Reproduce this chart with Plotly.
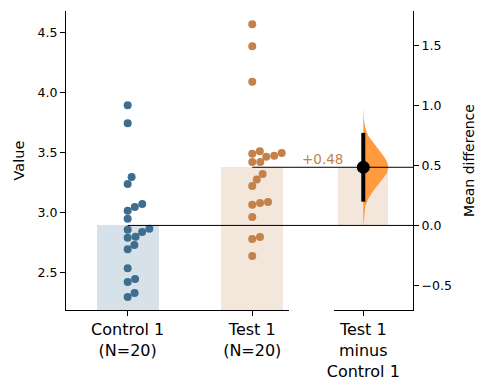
import math
import numpy as np
import plotly.graph_objects as go

# ---------------- data ----------------
categories = ["Control 1", "Test 1"]
control_values = [3.896, 3.746, 3.297, 3.239, 3.072, 3.047, 3.017, 2.950, 2.859, 2.867,
                  2.839, 2.800, 2.792, 2.731, 2.695, 2.537, 2.448, 2.423, 2.332, 2.299]
test_values = [4.570, 4.387, 4.090, 3.491, 3.422, 3.422, 3.466, 3.474, 3.497, 3.513,
               3.322, 3.277, 3.222, 3.067, 3.081, 3.089, 2.964, 2.781, 2.798, 2.640]
left_ticks = [2.5, 3.0, 3.5, 4.0, 4.5]
right_ticks = [-0.5, 0.0, 0.5, 1.0, 1.5]

# ---------------- styling / layout constants ----------------
W, H = 490, 390
FONT = "DejaVu Sans"
C_CTRL = "#3f6d8e"
C_TEST = "#c4814a"
C_CTRL_BAR = "#d7e1e9"
C_TEST_BAR = "#f3e6db"
C_VIOLIN = "#ff9a3e"

x_dom = [66 / W, 289 / W]
x2_dom = [334 / W, 413 / W]
y_dom = [(H - 310) / H, (H - 11) / H]
x_range = [-0.495, 1.295]
x2_range = [-0.235, 0.399]
y_range = [2.19, 4.68]

n_c, n_t = len(control_values), len(test_values)
c_arr, t_arr = np.array(control_values), np.array(test_values)
c_mean, t_mean = c_arr.mean(), t_arr.mean()
diff = t_mean - c_mean
se = math.sqrt(c_arr.var(ddof=1) / n_c + t_arr.var(ddof=1) / n_t)
ci_lo, ci_hi = diff - 1.96 * se, diff + 1.96 * se
y2_range = [y_range[0] - c_mean, y_range[1] - c_mean]

# pixel scales (for the swarm layout)
px_per_x = (x_dom[1] - x_dom[0]) * W / (x_range[1] - x_range[0])
px_per_y = (y_dom[1] - y_dom[0]) * H / (y_range[1] - y_range[0])
DOT = 8.0


def swarm_offsets(values):
    order = sorted(range(len(values)), key=lambda i: values[i])
    placed = []
    offs = [0.0] * len(values)
    for i in order:
        y = values[i] * px_per_y
        cands = [0.0]
        for (px, py) in placed:
            dy = abs(y - py)
            if dy < DOT:
                cands.append(px + math.sqrt(DOT * DOT - dy * dy))
        cands = sorted(c for c in cands if c >= 0)
        chosen = cands[-1]
        for c in cands:
            if all((c - px) ** 2 + (y - py) ** 2 >= DOT * DOT - 1e-6 for px, py in placed):
                chosen = c
                break
        placed.append((chosen, y))
        offs[i] = chosen / px_per_x
    return offs


fig = go.Figure()

# bars (means)
fig.add_trace(go.Bar(x=[0], y=[c_mean], width=0.5, marker_color=C_CTRL_BAR,
                     marker_line_width=0, xaxis="x", yaxis="y"))
fig.add_trace(go.Bar(x=[1], y=[t_mean], width=0.5, marker_color=C_TEST_BAR,
                     marker_line_width=0, xaxis="x", yaxis="y"))

# swarms
for idx, (vals, col) in enumerate([(control_values, C_CTRL), (test_values, C_TEST)]):
    offs = swarm_offsets(vals)
    fig.add_trace(go.Scatter(x=[idx + o for o in offs], y=vals, mode="markers",
                             marker=dict(size=DOT, color=col, line_width=0),
                             xaxis="x", yaxis="y"))

# delta panel bar
fig.add_trace(go.Bar(x=[0], y=[diff], width=0.4, marker_color=C_TEST_BAR,
                     marker_line_width=0, xaxis="x2", yaxis="y2"))

# half violin (normal approximation of the sampling distribution)
grid = np.linspace(diff - 3.4 * se, diff + 3.5 * se, 120)
pdf = np.exp(-0.5 * ((grid - diff) / se) ** 2)
vx = 0.2 * pdf / pdf.max()
fig.add_trace(go.Scatter(x=np.concatenate([[0], vx, [0]]),
                         y=np.concatenate([[grid[0]], grid, [grid[-1]]]),
                         fill="toself", fillcolor=C_VIOLIN, mode="lines",
                         line=dict(width=0, color=C_VIOLIN), xaxis="x2", yaxis="y2"))

# CI and point estimate
fig.add_trace(go.Scatter(x=[0, 0], y=[ci_lo, ci_hi], mode="lines",
                         line=dict(color="black", width=4), xaxis="x2", yaxis="y2"))
fig.add_trace(go.Scatter(x=[0], y=[diff], mode="markers",
                         marker=dict(size=13, color="black"), xaxis="x2", yaxis="y2"))


def paper_x(v):
    return x_dom[0] + (v - x_range[0]) / (x_range[1] - x_range[0]) * (x_dom[1] - x_dom[0])


shapes = []
for cat, m in [(0, c_mean), (1, t_mean)]:
    shapes.append(dict(type="line", xref="paper", yref="y", x0=paper_x(cat), x1=x2_dom[1],
                       y0=m, y1=m, line=dict(color="black", width=1), layer="above"))

annotations = [dict(x=-0.15, y=diff, xref="x2", yref="y2", text=f"{diff:+.2f}",
                    showarrow=False, xanchor="right", yanchor="middle", yshift=8,
                    font=dict(family=FONT, size=13.5, color=C_TEST))]

axis_common = dict(showline=True, linecolor="black", linewidth=1, ticks="outside",
                   ticklen=5, tickcolor="black", showgrid=False, zeroline=False,
                   automargin=False,
                   tickfont=dict(family=FONT, size=12.5, color="black"))
xtickfont = dict(family=FONT, size=16, color="black")

fig.update_layout(
    width=W, height=H, margin=dict(l=0, r=0, t=0, b=0),
    paper_bgcolor="white", plot_bgcolor="white", showlegend=False,
    bargap=0, barmode="overlay",
    font=dict(family=FONT, color="black"),
    xaxis=dict(domain=x_dom, range=x_range, anchor="y", tickvals=[0, 1],
               ticktext=[f"{c}<br>(N={n})" for c, n in zip(categories, [n_c, n_t])],
               **{**axis_common, "tickfont": xtickfont}),
    yaxis=dict(domain=y_dom, range=y_range, anchor="x", tickvals=left_ticks,
               tickformat=".1f", title=dict(text="Value", standoff=9,
                                            font=dict(family=FONT, size=14.5)),
               **axis_common),
    xaxis2=dict(domain=x2_dom, range=x2_range, anchor="y2", tickvals=[0],
                ticktext=[f"{categories[1]}<br>minus<br>{categories[0]}"],
                **{**axis_common, "tickfont": xtickfont}),
    yaxis2=dict(domain=y_dom, range=y2_range, anchor="x2", side="right",
                tickvals=right_ticks, tickformat=".1f",
                title=dict(text="Mean difference", standoff=13,
                           font=dict(family=FONT, size=14)),
                **axis_common),
    shapes=shapes, annotations=annotations,
)

fig.write_html("out.html", config={"displayModeBar": False},
               post_script="document.body.style.margin='0px';")
